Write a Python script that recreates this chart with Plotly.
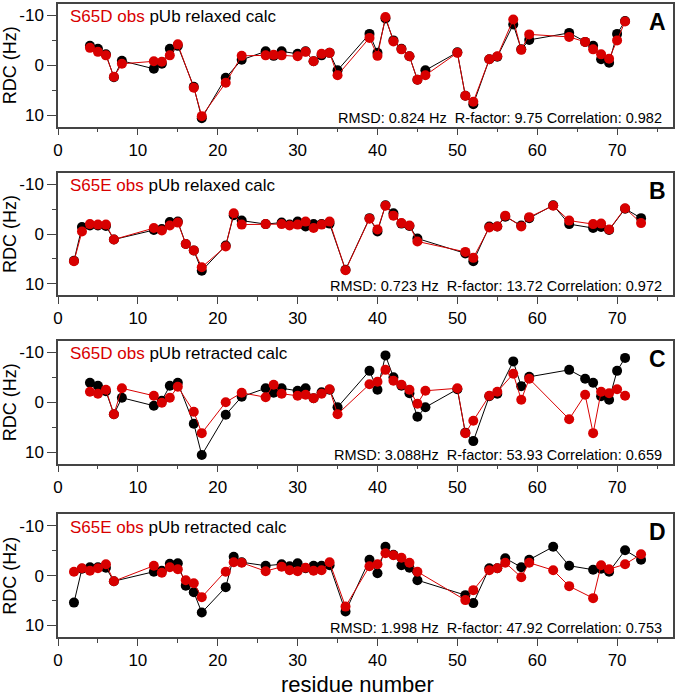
import plotly.graph_objects as go

# Residue numbers
res_S65D = [4, 5, 6, 7, 8, 12, 13, 14, 15, 17, 18, 21, 23, 26, 27, 28, 30, 31, 32, 33, 34, 35,
            39, 40, 41, 42, 43, 44, 45, 46, 50, 51, 52, 54, 55, 57, 58, 59, 64, 66, 67, 68, 69, 70, 71]
res_S65E = [2, 3, 4, 5, 6, 7, 12, 13, 14, 15, 16, 17, 18, 21, 22, 23, 26, 28, 29, 30, 31, 32, 33, 34,
            36, 39, 40, 41, 42, 43, 44, 45, 51, 52, 54, 55, 56, 58, 59, 62, 64, 67, 68, 69, 71, 73]

# Black series (observed RDCs)
black_S65D = [-3.9, -3.3, -2.2, 2.4, -0.9, 0.7, -0.3, -3.3, -3.9, 4.3, 10.6, 2.5, -1.1, -2.8, -1.9, -2.8,
              -2.3, -2.8, -0.8, -2.0, -2.5, 1.0, -6.3, -2.5, -9.4, -5.0, -3.3, -1.8, 2.9, 1.0, -2.6, 6.1,
              7.8, -1.2, -1.7, -8.2, -3.2, -5.1, -6.5, -4.7, -3.9, -1.2, -0.5, -6.3, -8.9]
black_S65E = [5.4, -1.4, -1.7, -1.7, -1.6, 1.1, -0.8, -1.0, -2.4, -2.5, 2.0, 3.3, 7.4, 2.3, -3.8, -2.7,
              -2.0, -2.3, -1.9, -2.5, -1.5, -2.0, -2.0, -2.1, 7.2, -3.2, -0.5, -5.8, -4.2, -2.1, -1.6, 0.9,
              3.9, 5.5, -1.5, -1.5, -3.5, -1.7, -3.2, -5.8, -2.0, -1.2, -1.4, -0.8, -5.1, -3.2]

# Red series (calculated RDCs)
red_A = [-3.5, -2.7, -2.0, 2.3, -0.3, -0.8, -0.7, -2.0, -4.2, 4.5, 10.2, 3.5, -1.9, -2.0, -2.1, -2.0,
         -1.8, -2.7, -0.8, -2.3, -2.5, 2.0, -5.5, -1.9, -9.7, -4.8, -3.2, -1.8, 2.9, 2.0, -2.5, 6.1,
         7.3, -1.2, -1.8, -9.2, -3.1, -6.2, -5.7, -4.7, -3.2, -2.2, -1.3, -5.0, -8.8]
red_B = [5.5, -0.5, -2.0, -1.9, -1.9, 1.1, -1.2, -0.7, -1.7, -2.3, 2.0, 3.3, 6.7, 2.5, -4.2, -1.9,
         -2.0, -2.0, -1.7, -1.9, -2.5, -1.2, -1.9, -2.5, 7.3, -3.1, -0.9, -5.7, -3.7, -2.2, -1.7, 1.5,
         3.6, 4.8, -1.3, -1.5, -3.7, -1.5, -3.4, -5.7, -2.7, -2.0, -2.1, -0.9, -5.2, -2.2]
red_C = [-2.1, -1.7, -2.5, 2.4, -2.8, -1.3, 0.1, -0.9, -3.1, 1.9, 6.2, 0.0, -1.9, -1.0, -3.5, -1.7,
         -1.3, -1.5, -0.8, -1.7, -2.6, 2.4, -3.6, -4.1, -6.5, -4.3, -3.5, -2.5, 0.3, -2.3, -2.8, 6.2,
         3.7, -1.3, -2.1, -5.7, -0.5, -4.7, 3.4, -1.5, 6.2, -2.1, -1.8, -2.6, -1.3]
red_D = [-0.8, -1.5, -1.0, -1.5, -2.3, 1.1, -2.0, -0.6, -1.7, -1.3, 0.9, 1.5, 4.3, -0.8, -2.7, -2.6,
         -0.9, -1.8, -1.1, -0.9, -1.6, -1.0, -1.1, -2.7, 6.2, -1.9, -2.3, -4.5, -4.1, -3.6, -2.6, -0.8,
         4.9, 2.9, -1.1, -1.5, -2.6, 0.3, -2.6, -1.1, 2.1, 4.5, -2.1, -1.3, -2.3, -4.3]

panel_letters = ["A", "B", "C", "D"]
obs_labels = ["S65D obs", "S65E obs", "S65D obs", "S65E obs"]
calc_labels = ["pUb relaxed calc", "pUb relaxed calc", "pUb retracted calc", "pUb retracted calc"]
stats = ["RMSD: 0.824 Hz  R-factor: 9.75 Correlation: 0.982",
         "RMSD: 0.723 Hz  R-factor: 13.72 Correlation: 0.972",
         "RMSD: 3.088Hz  R-factor: 53.93 Correlation: 0.659",
         "RMSD: 1.998 Hz  R-factor: 47.92 Correlation: 0.753"]
y_ticks = [-10, 0, 10]
y_tick_text = ["-10", "0", "10"]
x_ticks = [0, 10, 20, 30, 40, 50, 60, 70]

panels = [
    (res_S65D, black_S65D, red_A),
    (res_S65E, black_S65E, red_B),
    (res_S65D, black_S65D, red_C),
    (res_S65E, black_S65E, red_D),
]

RED = "#d80000"
FONT = "Liberation Sans, Arial, Helvetica, sans-serif"
W, H = 677, 696
ML, MR, MT, MB = 58, 4, 2, 59
plot_w = W - ML - MR
plot_h = H - MT - MB
# panel boxes in pixel (top, bottom)
boxes = [(2, 125), (171.5, 294), (340, 463), (514, 637)]

fig = go.Figure()
layout = {}
annotations = []
for i, (res, blk, red) in enumerate(panels):
    n = i + 1
    xa = "x" if n == 1 else f"x{n}"
    ya = "y" if n == 1 else f"y{n}"
    fig.add_trace(go.Scatter(x=res, y=blk, mode="lines+markers", xaxis=xa, yaxis=ya,
                             line=dict(color="black", width=1),
                             marker=dict(color="black", size=10), showlegend=False))
    fig.add_trace(go.Scatter(x=res, y=red, mode="lines+markers", xaxis=xa, yaxis=ya,
                             line=dict(color=RED, width=1),
                             marker=dict(color=RED, size=10), showlegend=False))
    top, bot = boxes[i]
    bh = bot - top
    d0 = (H - MB - bot) / plot_h
    d1 = (H - MB - top) / plot_h
    xkey = "xaxis" if n == 1 else f"xaxis{n}"
    ykey = "yaxis" if n == 1 else f"yaxis{n}"
    layout[xkey] = dict(domain=[0, 1], range=[0, 77], anchor=ya,
                        tickvals=x_ticks, ticks="outside", ticklen=7, tickwidth=1.2,
                        tickcolor="#444", showline=True, linecolor="#444", linewidth=1.5,
                        mirror=True, showgrid=False, zeroline=False,
                        tickfont=dict(size=17, family=FONT, color="black"),
                        minor=dict(dtick=5, tick0=0, ticks="outside", ticklen=4,
                                   tickwidth=1.2, tickcolor="#444", showgrid=False))
    layout[ykey] = dict(domain=[d0, d1], range=[12.3, -12.3], anchor=xa,
                        tickvals=y_ticks, ticktext=y_tick_text, ticks="outside", ticklen=9,
                        tickwidth=1.2, tickcolor="#444", showline=True, linecolor="#444",
                        linewidth=1.5, mirror=True, showgrid=False, zeroline=False,
                        tickfont=dict(size=17, family=FONT, color="black"),
                        minor=dict(dtick=5, tick0=0, ticks="outside", ticklen=4,
                                   tickwidth=1.2, tickcolor="#444", showgrid=False))
    dref = f"{xa} domain"
    yref = f"{ya} domain"
    annotations.append(dict(xref=dref, yref=yref, x=10 / plot_w, y=1 - 13 / bh, xanchor="left",
                            yanchor="middle", showarrow=False,
                            text=f"<span style='color:{RED}'>{obs_labels[i]}</span> {calc_labels[i]}",
                            font=dict(size=17, family=FONT, color="black")))
    annotations.append(dict(xref=dref, yref=yref, x=1 - 5 / plot_w, y=1 - 18 / bh, xanchor="right",
                            yanchor="middle", showarrow=False, text=f"<b>{panel_letters[i]}</b>",
                            font=dict(size=23, family=FONT, color="black")))
    annotations.append(dict(xref=dref, yref=yref, x=1 - 9 / plot_w, y=9 / bh, xanchor="right",
                            yanchor="middle", showarrow=False, text=stats[i],
                            font=dict(size=14.5, family=FONT, color="black")))
    annotations.append(dict(xref="paper", yref=yref, x=(10 - ML) / plot_w, y=0.5,
                            xanchor="center", yanchor="middle", textangle=-90, showarrow=False,
                            text="RDC (Hz)", font=dict(size=18, family=FONT, color="black")))

annotations.append(dict(xref="paper", yref="paper", x=(357 - ML) / plot_w,
                        y=(H - MB - 685) / plot_h, xanchor="center", yanchor="middle",
                        showarrow=False, text="residue number",
                        font=dict(size=22, family=FONT, color="black")))

fig.update_layout(width=W, height=H, margin=dict(l=ML, r=MR, t=MT, b=MB),
                  plot_bgcolor="white", paper_bgcolor="white",
                  annotations=annotations, **layout)
fig.write_html("out.html", config={"displayModeBar": False},
               post_script="document.body.style.margin='0';document.body.style.overflow='hidden';")
